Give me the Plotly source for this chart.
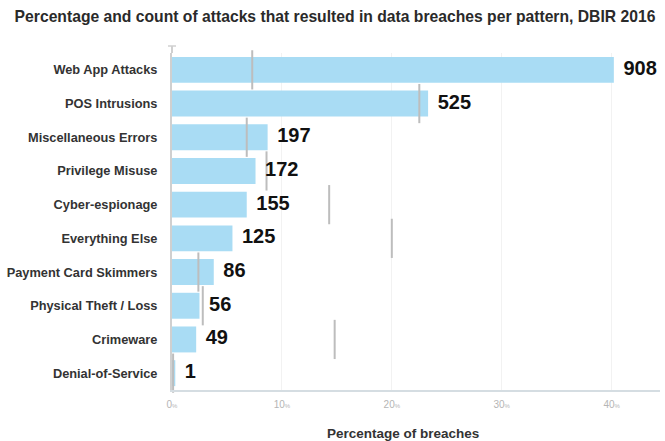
import plotly.graph_objects as go

categories = ["Web App Attacks", "POS Intrusions", "Miscellaneous Errors", "Privilege Misuse",
              "Cyber-espionage", "Everything Else", "Payment Card Skimmers",
              "Physical Theft / Loss", "Crimeware", "Denial-of-Service"]
breach_pct = [40.2, 23.3, 8.7, 7.6, 6.8, 5.5, 3.8, 2.5, 2.2, 0.3]
breach_count = [908, 525, 197, 172, 155, 125, 86, 56, 49, 1]
incident_pct = [7.3, 22.5, 6.8, 8.6, 14.3, 20.0, 2.4, 2.8, 14.8, 0.1]
tick_vals = [0, 10, 20, 30, 40]
tick_labels = ["0", "10", "20", "30", "40"]

FONT = "Liberation Sans, Arial"
W, H = 665, 441
L, R, T, B = 172, 5, 53, 51
PH = H - T - B

fig = go.Figure()
fig.add_trace(go.Bar(
    x=breach_pct, y=categories, orientation="h",
    marker=dict(color="#a9dcf4", line=dict(width=0)),
    width=0.77, hoverinfo="skip", showlegend=False,
))
fig.add_trace(go.Scatter(
    x=incident_pct, y=categories, mode="markers",
    marker=dict(symbol="line-ns", size=28, line=dict(color="#bdbdbd", width=2)),
    hoverinfo="skip", showlegend=False, cliponaxis=False,
))
fig.add_trace(go.Scatter(
    x=breach_pct, y=categories, mode="text",
    text=[" \u2009" + str(c) for c in breach_count], textposition="middle right",
    textfont=dict(family=FONT, size=20, color="#111111", weight="bold"),
    hoverinfo="skip", showlegend=False, cliponaxis=False,
))

fig.update_layout(
    width=W, height=H,
    margin=dict(l=L, r=R, t=T, b=B, autoexpand=False),
    paper_bgcolor="white", plot_bgcolor="white",
    font=dict(family=FONT, color="#333333"),
    title=dict(
        text="Percentage and count of attacks that resulted in data breaches per pattern, DBIR 2016",
        x=335 / W, xanchor="center", y=1 - 17 / H, yanchor="middle",
        font=dict(family=FONT, size=15.7, color="#2a2a2a", weight="bold"),
    ),
)
fig.update_xaxes(
    range=[0, 44.4], tickvals=tick_vals,
    ticktext=[t + "<span style='font-size:6px'>%</span>" for t in tick_labels],
    tickfont=dict(size=10, color="#b5b5b5"),
    showgrid=True, gridcolor="#f2f2f2", gridwidth=1, zeroline=False,
    showline=True, linecolor="#d5dde2", linewidth=2, ticks="", ticklabelstandoff=4,
    fixedrange=True, automargin=False,
)
fig.update_yaxes(
    range=[9.5, -0.5], tickfont=dict(size=12.8, color="#333333", weight="bold"),
    showline=True, linecolor="#d0d0d0", linewidth=2, ticks="", ticklabelstandoff=10,
    showgrid=False, fixedrange=True, automargin=False,
)
# small cap at the top of the vertical axis line
fig.add_shape(type="line", xref="paper", yref="paper", x0=0, x1=0, y0=1, y1=1 + 7 / PH,
              line=dict(color="#d0d0d0", width=2))
fig.add_shape(type="line", xref="paper", yref="paper", x0=-4 / (W - L - R), x1=4 / (W - L - R),
              y0=1 + 7 / PH, y1=1 + 7 / PH, line=dict(color="#d0d0d0", width=1.5))
fig.add_annotation(
    text="Percentage of breaches", xref="paper", yref="paper",
    x=(403 - L) / (W - L - R), y=-(433 - (H - B)) / PH, xanchor="center", yanchor="middle",
    showarrow=False,
    font=dict(family=FONT, size=13.5, color="#333333", weight="bold"),
)

fig.write_html("out.html", config={"displayModeBar": False},
               post_script="document.body.style.margin='0px';")
